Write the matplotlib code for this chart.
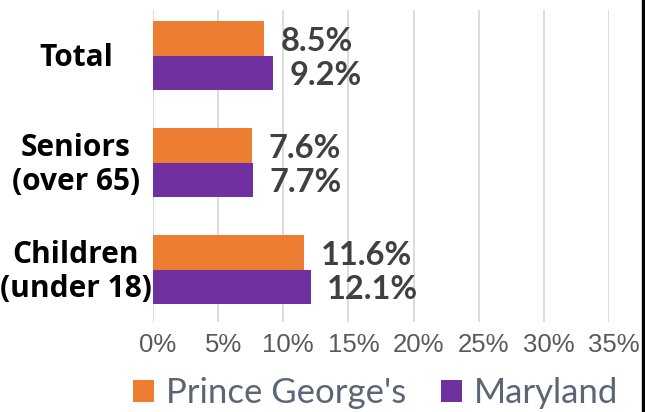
import numpy as np
import matplotlib
matplotlib.use("Agg")
import matplotlib.pyplot as plt
from matplotlib.patches import Rectangle
from matplotlib.transforms import blended_transform_factory, ScaledTranslation

categories = ["Total", "Seniors\n(over 65)", "Children\n(under 18)"]
prince_georges = [8.5, 7.6, 11.6]
maryland = [9.2, 7.7, 12.1]
series_names = ["Prince George's", "Maryland"]
xticks = [0, 5, 10, 15, 20, 25, 30, 35]

orange = "#ED7D31"
purple = "#7030A0"

fig = plt.figure(figsize=(6.45, 4.12), dpi=100)
ax = fig.add_axes([153/645, 90/412, 456/645, 312/412])

y = np.arange(len(categories))
h = 0.32
b1 = ax.barh(y - h/2, prince_georges, height=h, color=orange, label=series_names[0])
b2 = ax.barh(y + h/2, maryland, height=h, color=purple, label=series_names[1])

ax.set_xlim(0, 35)
ax.set_ylim(2.489, -0.427)
ax.set_xticks(xticks)
ax.set_xticklabels([f"{t}%" for t in xticks], family="Liberation Sans",
                   fontsize=18.5, color="#595959")
ax.tick_params(axis="x", length=0, pad=8)
shift = ScaledTranslation(5/100, 0, fig.dpi_scale_trans)
for lab in ax.get_xticklabels():
    lab.set_transform(lab.get_transform() + shift)
ax.set_yticks([])
ax.grid(axis="x", color="#D9D9D9", linewidth=1.3)
ax.set_axisbelow(True)
for s in ax.spines.values():
    s.set_visible(False)

# value labels
for bars, vals in ((b1, prince_georges), (b2, maryland)):
    for bar, v in zip(bars, vals):
        ax.annotate(f"{v}%", (v, bar.get_y() + bar.get_height()/2),
                    xytext=(12, -2), textcoords="offset points",
                    ha="left", va="center", family="Lato", fontweight="bold",
                    fontsize=23.5, color="#404040")

# category labels, centred like Excel does
tr = blended_transform_factory(fig.transFigure, ax.transData)
for yi, cat in zip(y, categories):
    ax.text(76/645, yi + 0.02, cat, transform=tr, ha="center", va="center",
            family="Open Sans", fontweight="bold", fontsize=21.5, color="black",
            linespacing=1.15)

fig.legend(handles=[b1, b2], labels=series_names, loc="center",
           bbox_to_anchor=(376/645, 1 - 393/412), ncol=2, frameon=False,
           prop={"family": "Lato", "size": 25}, labelcolor="#5A6677",
           handlelength=0.6, handleheight=0.6, handletextpad=0.35,
           columnspacing=1.0)

# black edge on the right
fig.patches.append(Rectangle((642/645, 0), 3/645, 1, transform=fig.transFigure,
                             color="black", zorder=5))

fig.savefig("out.png", dpi=100)
